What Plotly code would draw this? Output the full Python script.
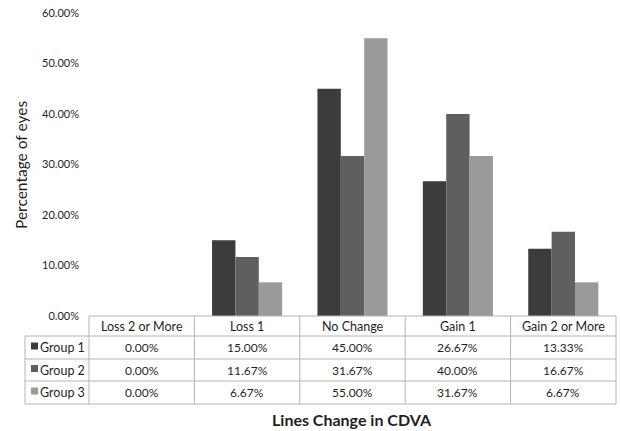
import plotly.graph_objects as go

# --- data ---------------------------------------------------------------
categories = ["Loss 2 or More", "Loss 1", "No Change", "Gain 1", "Gain 2 or More"]
group_names = ["Group 1", "Group 2", "Group 3"]
group1 = [0.0, 15.00, 45.00, 26.67, 13.33]
group2 = [0.0, 11.67, 31.67, 40.00, 16.67]
group3 = [0.0, 6.67, 55.00, 31.67, 6.67]
series = [group1, group2, group3]
colors = ["#3c3c3c", "#5f5f5f", "#9a9a9a"]

y_title = "Percentage of eyes"
x_title = "Lines Change in CDVA"

# --- canvas geometry (pixels) --------------------------------------------
W, H = 620, 431
plot_left, plot_right = 89, 616
plot_top, plot_bottom = 13, 316
row_edges = [316, 336, 359, 381, 404]   # header + three group rows
key_left = 25                            # left edge of the legend-key column

FONT = "Lato, 'Open Sans', sans-serif"
TEXT = "#1f1f1f"
GRID = "#b4b4b4"


def px(x):
    return x / W


def py(y):
    return 1 - y / H


n = len(categories)
col_w = (plot_right - plot_left) / n


def col_edge(i):
    return plot_left + i * col_w


fig = go.Figure()
for name, vals, c in zip(group_names, series, colors):
    fig.add_trace(go.Bar(
        x=categories,
        y=[v / 100 for v in vals],
        name=name,
        marker=dict(color=c, line=dict(width=0)),
        showlegend=False,
    ))

shapes = []
annotations = []

# horizontal table lines
for k, y in enumerate(row_edges):
    x0 = plot_left if k == 0 else key_left
    shapes.append(dict(type="line", xref="paper", yref="paper",
                       x0=px(x0), x1=px(plot_right), y0=py(y), y1=py(y),
                       line=dict(color=GRID, width=1)))
# vertical table lines
for i in range(n + 1):
    shapes.append(dict(type="line", xref="paper", yref="paper",
                       x0=px(col_edge(i)), x1=px(col_edge(i)),
                       y0=py(row_edges[0]), y1=py(row_edges[-1]),
                       line=dict(color=GRID, width=1)))
shapes.append(dict(type="line", xref="paper", yref="paper",
                   x0=px(key_left), x1=px(key_left),
                   y0=py(row_edges[1]), y1=py(row_edges[-1]),
                   line=dict(color=GRID, width=1)))

# header labels
for i, cat in enumerate(categories):
    annotations.append(dict(
        xref="paper", yref="paper", x=px(col_edge(i) + col_w / 2),
        y=py((row_edges[0] + row_edges[1]) / 2), text=cat, showarrow=False,
        xanchor="center", yanchor="middle",
        font=dict(family=FONT, size=12.5, color=TEXT)))

# group rows: legend key, name and values
for r, (name, vals, c) in enumerate(zip(group_names, series, colors)):
    yc = (row_edges[r + 1] + row_edges[r + 2]) / 2
    shapes.append(dict(type="rect", xref="paper", yref="paper",
                       x0=px(31), x1=px(38), y0=py(yc - 5), y1=py(yc + 2),
                       fillcolor=c, line=dict(width=0)))
    annotations.append(dict(
        xref="paper", yref="paper", x=px(38), y=py(yc), text=name,
        showarrow=False, xanchor="left", yanchor="middle",
        font=dict(family=FONT, size=12.5, color=TEXT)))
    for i, v in enumerate(vals):
        annotations.append(dict(
            xref="paper", yref="paper", x=px(col_edge(i) + col_w / 2),
            y=py(yc), text=f"{v:.2f}%", showarrow=False,
            xanchor="center", yanchor="middle",
            font=dict(family=FONT, size=12, color=TEXT)))

# axis titles
annotations.append(dict(
    xref="paper", yref="paper", x=px(21), y=py(165), text=y_title,
    textangle=-90, showarrow=False, xanchor="center", yanchor="middle",
    font=dict(family=FONT, size=15.5, color=TEXT)))
annotations.append(dict(
    xref="paper", yref="paper", x=px(352), y=py(419), text=f"<b>{x_title}</b>",
    showarrow=False, xanchor="center", yanchor="middle",
    font=dict(family=FONT, size=16, color=TEXT)))

fig.update_layout(
    width=W, height=H,
    margin=dict(l=0, r=0, t=0, b=0),
    paper_bgcolor="white", plot_bgcolor="white",
    barmode="group", bargap=0.335, bargroupgap=0,
    font=dict(family=FONT, color=TEXT),
    xaxis=dict(domain=[px(plot_left), px(plot_right)], showticklabels=False,
               showgrid=False, zeroline=False, showline=False, ticks="",
               range=[-0.5, n - 0.5], automargin=False),
    yaxis=dict(domain=[py(plot_bottom), py(plot_top)], range=[0, 0.6],
               dtick=0.1, tickformat=".2%", showgrid=False, zeroline=False,
               showline=False, ticks="", ticklabelstandoff=9,
               tickfont=dict(family=FONT, size=11, color=TEXT),
               automargin=False),
    shapes=shapes,
    annotations=annotations,
)

fig.write_html("out.html")
